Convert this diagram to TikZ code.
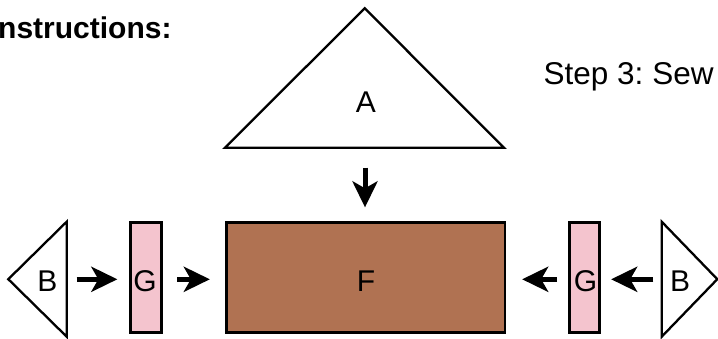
\documentclass[tikz,border=0pt]{standalone}
\usepackage{fontspec}
\setmainfont{Liberation Sans}
\usetikzlibrary{arrows.meta}
\definecolor{fbrown}{RGB}{176,114,82}
\definecolor{gpink}{RGB}{244,196,206}
\frenchspacing
\begin{document}
\begin{tikzpicture}[x=1pt,y=-1pt,
  shapeline/.style={draw=black, line width=2.3pt, line join=miter},
  piece/.style={shapeline, inner sep=0pt, minimum height=110pt},
  lbl/.style={font=\fontsize{30}{36}\selectfont, anchor=base, inner sep=0pt},
  flow/.style={line width=5pt, -{Stealth[length=26pt,width=25pt,inset=7pt]}},
]
\useasboundingbox (0,0) rectangle (718,339);
% title texts
\node[lbl, anchor=base west, font=\fontsize{30}{36}\selectfont\bfseries] (title) at (-2,39) {nstructions:};
\node[lbl, anchor=base west, font=\fontsize{31.5}{36}\selectfont] (step) at (543.5,85) {Step 3: Sew};
% triangle A
\draw[shapeline, fill=white] (225,147.7) -- (364.7,8.3) -- (504,147.7) -- cycle;
\coordinate (abase) at (365,147.7);
\node[lbl] (A) at (366,112.7) {A};
% rectangles
\node[piece, fill=fbrown, minimum width=278.5pt] (F) at (365.75,277.5) {};
\node[piece, fill=gpink, minimum width=31pt] (G1) at (146,277.5) {};
\node[piece, fill=gpink, minimum width=30pt] (G2) at (584.5,277.5) {};
\node[lbl] (Ft) at (366,291.7) {F};
\node[lbl] (G1t) at (145,291.7) {G};
\node[lbl] (G2t) at (585.5,291.7) {G};
% triangles B
\draw[shapeline, fill=white] (66.7,221.7) -- (8.3,279.2) -- (66.7,336.7) -- cycle;
\coordinate (bLe) at (66.7,279.3);
\node[lbl] (BL) at (47.5,291.7) {B};
\draw[shapeline, fill=white] (661.7,221.7) -- (717.3,279.2) -- (661.7,336.7) -- cycle;
\coordinate (bRe) at (661.7,279.3);
\node[lbl] (BR) at (680,291.7) {B};
% connectors
\draw[flow, shorten <=20pt, shorten >=14pt] (abase) -- (abase |- F.north);
\draw[flow, shorten <=10pt, shorten >=12pt] (bLe) -- (bLe -| G1.west);
\draw[flow, shorten <=14.5pt, shorten >=15.5pt] (G1.east |- bLe) -- (bLe -| F.west);
\draw[flow, shorten <=11.3pt, shorten >=16pt] (G2.west |- bRe) -- (bRe -| F.east);
\draw[flow, shorten <=8.4pt, shorten >=10.5pt] (bRe) -- (bRe -| G2.east);
\end{tikzpicture}
\end{document}
